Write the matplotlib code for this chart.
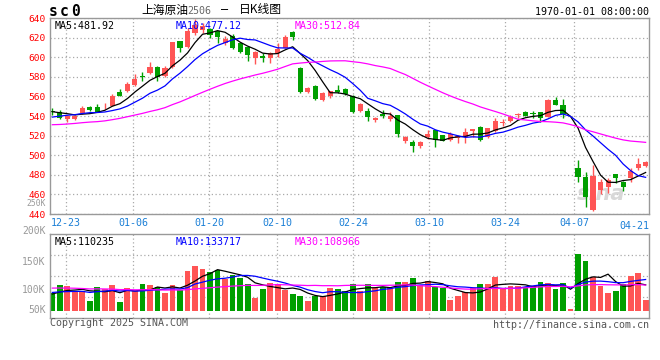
import numpy as np
import pandas as pd
import matplotlib
matplotlib.use("Agg")
import matplotlib.pyplot as plt
from matplotlib.transforms import ScaledTranslation

plt.rcParams['font.family'] = ['DejaVu Sans Mono', 'Noto Sans CJK SC']

# daily candles (oldest first)
opens = [545, 543.8, 537.4, 537.4, 542.8, 549.3, 549.3, 549.9, 550.6, 564.2,
         565.6, 571.7, 581.2, 583.6, 590.4, 580.9, 589.7, 616.6, 610, 624.5,
         627.8, 628.7, 626.5, 614.3, 621.5, 615, 610.2, 599, 601, 599.6,
         604, 609.5, 626, 589, 564, 571, 556.5, 560, 566.5, 568,
         560.8, 545.5, 545.2, 536, 541.8, 537, 541, 514.5, 513.9, 509.8,
         519, 525.8, 520.7, 515.6, 518, 519, 524.8, 529, 518.3, 524.8,
         533.3, 535, 541.1, 543.8, 542.8, 543.8, 539.4, 556.4, 551.3, 510.3,
         486.7, 477.5, 444.5, 465, 468, 480.5, 473, 476.3, 487.3, 489]
highs = [548.6, 546.2, 541, 541, 550.6, 550, 552, 553.7, 562.5, 567.6,
         575, 582.9, 585.3, 595.5, 591, 591, 616, 617, 629.5, 639,
         634.6, 629.5, 627, 622, 624, 616, 611, 606, 604, 605,
         615, 622.5, 626.5, 590, 570, 572, 564, 566, 571.5, 569,
         561.5, 553, 548, 539.4, 546, 544.5, 541.5, 519.5, 515.6, 514,
         525.8, 526, 521, 523.5, 520.5, 528, 527, 530, 528, 537.7,
         536.7, 541, 543.5, 545.5, 545.2, 544.5, 557, 559.8, 557.4, 510.7,
         495.2, 483.3, 490, 476, 476.5, 481, 474, 486.5, 497, 494]
lows = [541, 537, 533.6, 535.6, 542.3, 545, 544, 546.9, 550, 560,
        565, 571, 576, 583, 576, 580, 589, 605.7, 609, 623,
        624.4, 620, 615, 612, 608, 604, 596.5, 593, 595, 594,
        600, 609, 618, 563.5, 563, 556, 555.5, 558, 563.5, 561,
        542.8, 543.8, 535, 533.6, 538.4, 535, 519, 512, 503, 507.8,
        516.6, 508, 514, 515, 512, 512, 519, 514.5, 518, 524,
        530, 533.6, 537.7, 540, 538.4, 534.3, 539, 551, 537.7, 510.3,
        473, 447.6, 443.5, 460, 461, 472, 463.8, 473, 485, 487.5]
closes = [544, 537.7, 540.1, 539.8, 547.9, 546.5, 544.5, 550.6, 560.5, 560.8,
          572.8, 577.8, 580.2, 590.4, 580.2, 589.4, 615.9, 609.1, 627.1, 633,
          632, 622.5, 621, 618.7, 609, 605.7, 602.3, 605, 599, 604.3,
          608, 621, 621, 564.5, 568.3, 557.5, 563, 565.5, 564, 562,
          544.5, 552.3, 539.4, 538.4, 539.6, 540.4, 521.4, 519, 509.8, 513.9,
          522, 515.6, 515, 521.7, 519.7, 524, 526.8, 515.6, 527.5, 535,
          534.3, 539.4, 542.1, 540.4, 542.1, 537.7, 556.4, 551.3, 541.8, 510.7,
          478.2, 457.8, 479, 472.5, 474.8, 477, 467.5, 483.5, 490.8, 493]
# volume in thousands of lots
volume = [74.0, 109.6, 105.3, 84.0, 84.0, 41.3, 101.1, 93.9, 109.6, 37.0,
          96.8, 84.0, 113.9, 109.6, 101.1, 75.4, 109.6, 88.2, 169.4, 190.7,
          177.9, 165.1, 173.6, 135.2, 152.3, 139.5, 113.9, 54.1, 92.5, 118.1,
          113.9, 88.2, 71.2, 62.6, 41.3, 62.6, 62.6, 98.2, 92.5, 84.0,
          113.9, 84.0, 113.9, 95.4, 102.5, 95.4, 122.4, 122.4, 139.5, 109.6,
          126.7, 102.5, 95.4, 45.5, 62.6, 81.1, 95.4, 113.9, 113.9, 143.8,
          95.4, 105.3, 105.3, 102.5, 102.5, 122.4, 118.1, 92.5, 118.1, 7.1,
          242.0, 212.0, 143.8, 105.3, 76.9, 84.0, 113.9, 148.0, 160.8, 45.5]

# sessions before the first visible candle, only used to seed the moving averages
earlier_close = [530, 526, 522, 525, 528, 531, 527, 524, 520, 523,
                 527, 529, 532, 528, 525, 522, 526, 530, 533, 536,
                 528, 531, 534, 536, 538, 543, 545, 546, 544]
earlier_volume = [98, 112, 105, 120, 96, 88, 110, 125, 102, 94,
                  115, 108, 99, 121, 104, 92, 113, 106, 97, 110,
                  85, 92, 78, 81, 88, 66, 72, 75, 68]

date_labels = ['12-23', '01-06', '01-20', '02-10', '02-24', '03-10', '03-24', '04-07']
date_pos = [1.78, 10.75, 20.87, 29.96, 40.04, 50.16, 60.32, 69.47]
price_ticks = [440, 460, 480, 500, 520, 540, 560, 580, 600, 620, 640]
vol_labels = ['200K', '150K', '100K', '50K']
vol_label_pos = [1.04, 0.671, 0.332, 0.092]

RED = '#ff5555'
GREEN = '#009f00'
GRID = '#aaaaaa'
n = len(closes)
x = np.arange(n)
o = np.array(opens); c = np.array(closes)
cols = [RED if cc >= oo else GREEN for oo, cc in zip(o, c)]

allc = pd.Series(earlier_close + closes)
allv = pd.Series(earlier_volume + volume)
k = len(earlier_close)
ma = {w: allc.rolling(w, min_periods=1).mean().values[k:] for w in (5, 10, 30)}
vma = {w: allv.rolling(w, min_periods=1).mean().values[k:] for w in (5, 10, 30)}
ma_cols = {5: 'black', 10: '#0000ff', 30: '#ff00ff'}

fig = plt.figure(figsize=(6.6, 3.6), dpi=100)
ax = fig.add_axes([50/660, 1-214/360, 599/660, 196/360])
axv = fig.add_axes([50/660, 1-317.7/360, 599/660, 83.4/360])

# price panel
ax.vlines(x, lows, highs, color=cols, lw=1, zorder=2)
ax.bar(x, np.maximum(np.abs(c-o), 0.6), bottom=np.minimum(o, c), width=0.68,
       color=cols, linewidth=0, zorder=2)
for w in (5, 10, 30):
    ax.plot(x, ma[w], color=ma_cols[w], lw=0.9, zorder=3)
ax.set_xlim(-0.31, 79.45)
ax.set_ylim(440, 640)
ax.set_yticks(price_ticks)
ax.set_yticklabels([str(t) for t in price_ticks], color='red', fontsize=6.8)
up = ScaledTranslation(0, 2.5/100, fig.dpi_scale_trans)
for lab in ax.get_yticklabels()[1:]:
    lab.set_transform(lab.get_transform() + up)
ax.set_xticks(date_pos)
ax.set_xticklabels(date_labels, color='#1a7fd6', fontsize=7.2)
ax.tick_params(length=0, pad=3)
ax.text(1.0, -0.035, '04-21', transform=ax.transAxes, ha='right', va='top',
        color='#1a7fd6', fontsize=7.2)
ax.text(-0.007, 0.055, '250K', transform=ax.transAxes, ha='right', va='center',
        color='#999999', fontsize=5.8)
ax.text(0.92, 0.1, 'sina', transform=ax.transAxes, ha='center', va='center',
        color='#d8d8d8', fontsize=15, style='italic', fontweight='bold',
        family='DejaVu Sans', zorder=1)
ax.text(0.007, 0.985, 'MA5:481.92', transform=ax.transAxes, va='top', fontsize=7.2, color='black')
ax.text(0.209, 0.985, 'MA10:477.12', transform=ax.transAxes, va='top', fontsize=7.2, color='#0000ff')
ax.text(0.409, 0.985, 'MA30:512.84', transform=ax.transAxes, va='top', fontsize=7.2, color='#ff00ff')

# volume panel
axv.bar(x, volume, width=0.78, color=cols, linewidth=0, zorder=2)
for w in (5, 10, 30):
    axv.plot(x, vma[w], color=ma_cols[w], lw=0.9, zorder=3)
axv.set_xlim(-0.31, 79.45)
vlo, vhi = -29.9, 326.2
axv.set_ylim(vlo, vhi)
axv.set_yticks([vlo + f*(vhi-vlo) for f in (0.25, 0.5, 0.75)])
axv.set_yticklabels([])
axv.set_xticks(date_pos)
axv.set_xticklabels([])
axv.tick_params(length=0)
for lab, f in zip(vol_labels, vol_label_pos):
    axv.text(-0.007, f, lab, transform=axv.transAxes, ha='right', va='center',
             color='#999999', fontsize=7, clip_on=False)
axv.text(0.007, 0.97, 'MA5:110235', transform=axv.transAxes, va='top', fontsize=7.2, color='black')
axv.text(0.209, 0.97, 'MA10:133717', transform=axv.transAxes, va='top', fontsize=7.2, color='#0000ff')
axv.text(0.409, 0.97, 'MA30:108966', transform=axv.transAxes, va='top', fontsize=7.2, color='#ff00ff')

for a in (ax, axv):
    a.grid(True, color=GRID, linestyle=(0, (1, 2)), lw=0.9)
    a.set_axisbelow(True)
    for s in a.spines.values():
        s.set_color('#999999')
        s.set_linewidth(1)

# header and footer
for ch, px in zip('sc0', [53, 64.5, 76]):
    fig.text(px/660, 1-11/360, ch, ha='center', va='center', fontsize=10.5, fontweight='bold')
fig.text(141/660, 1-10/360, '上海原油', ha='left', va='center', fontsize=8.5,
         family=['Noto Sans CJK SC'])
fig.text(187/660, 1-11/360, '2506', ha='left', va='center', fontsize=7.2, color='#666666')
fig.text(221/660, 1-10/360, '–', ha='left', va='center', fontsize=8.5)
fig.text(239/660, 1-10/360, '日K线图', ha='left', va='center', fontsize=8.5,
         family=['Noto Sans CJK SC'])
fig.text(649/660, 1-12/360, '1970-01-01 08:00:00', ha='right', va='center', fontsize=7.2)
fig.text(50/660, 1-323.5/360, 'Copyright 2025 SINA.COM', ha='left', va='center',
         fontsize=7.2, color='#555555')
fig.text(649/660, 1-324.5/360, 'http://finance.sina.com.cn', ha='right', va='center',
         fontsize=7.2, color='#555555')

fig.savefig('out.png', dpi=100)
